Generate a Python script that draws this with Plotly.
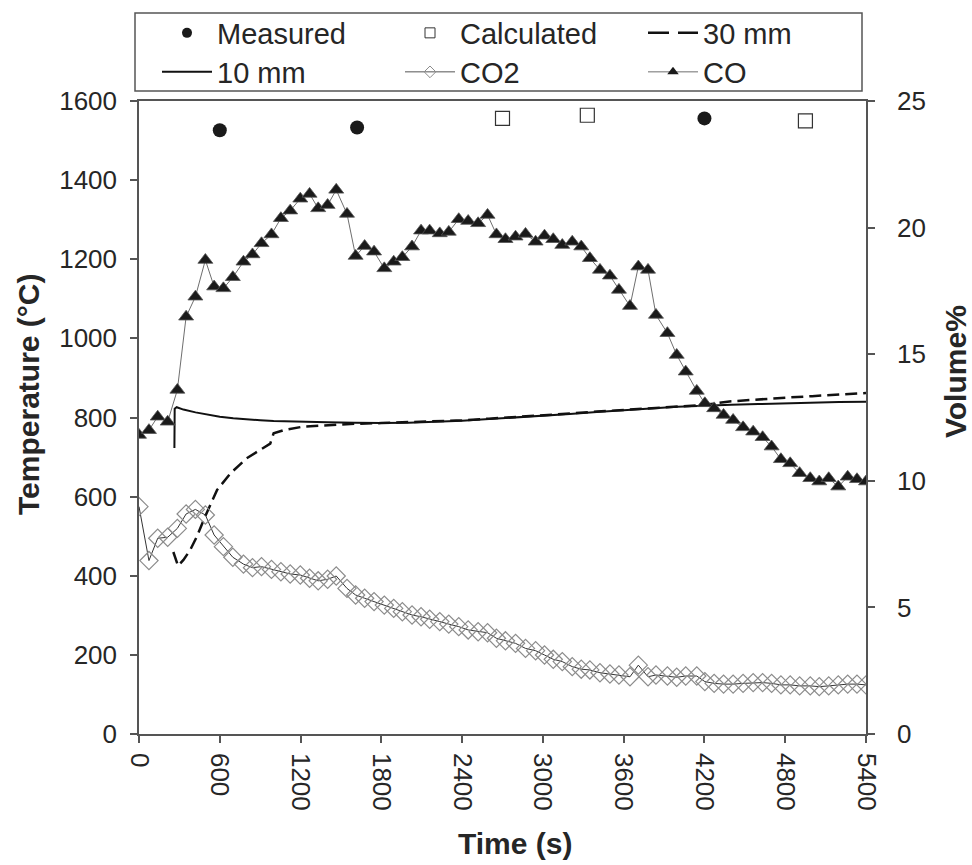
import plotly.graph_objects as go

# ---- data -------------------------------------------------------------
# surface temperatures (degC)
t_measured = [600, 1620, 4200]
T_measured = [1526, 1533, 1556]
t_calculated = [2700, 3330, 4950]
T_calculated = [1556, 1564, 1550]

# thermocouple 30 mm below the surface
t_30mm = [255, 290, 330, 380, 430, 490, 580, 680, 800, 925, 975, 1000, 1075, 1220,
          1400, 1600, 1800, 2000, 2200, 2400, 2600, 2800, 3000, 3200, 3400, 3600,
          3800, 4000, 4200, 4400, 4600, 4800, 5000, 5200, 5400]
T_30mm = [460, 425, 440, 465, 499, 549, 617, 659, 697, 722, 734, 760, 768, 777,
          781, 784, 786, 788, 790, 793, 797, 801, 806, 810, 815, 819,
          823, 827, 832, 841, 846, 850, 854, 858, 862]

# thermocouple 10 mm below the surface
t_10mm = [263, 265, 280, 330, 420, 520, 600, 700, 800, 900, 1000, 1200, 1400, 1600,
          1800, 2000, 2200, 2400, 2600, 2800, 3000, 3200, 3400, 3600, 3800, 4000,
          4200, 4400, 4600, 4800, 5000, 5200, 5400]
T_10mm = [723, 822, 826, 820, 813, 807, 802, 798, 795, 793, 791, 789, 788, 787,
          786, 787, 789, 792, 796, 800, 805, 809, 814, 819, 823, 827,
          830, 832, 834, 836, 837, 839, 840]

# off-gas composition (vol%)
t_gas = [0, 74, 139, 213, 285, 350, 419, 493, 558, 627, 697, 776, 843, 910, 984,
         1054, 1123, 1198, 1267, 1331, 1401, 1465, 1545, 1609, 1676, 1746, 1822,
         1892, 1956, 2028, 2095, 2159, 2234, 2301, 2375, 2445, 2519, 2589, 2655,
         2722, 2797, 2871, 2946, 3012, 3077, 3144, 3218, 3285, 3349, 3424, 3498,
         3565, 3647, 3709, 3781, 3840, 3925, 3994, 4061, 4143, 4203, 4272, 4342,
         4413, 4487, 4562, 4632, 4699, 4768, 4837, 4907, 4986, 5053, 5123, 5194,
         5264, 5333, 5400]
co2_vol = [8.98, 6.85, 7.73, 7.77, 8.12, 8.69, 8.87, 8.65, 7.86, 7.40, 6.98, 6.71,
           6.57, 6.61, 6.50, 6.41, 6.32, 6.28, 6.15, 6.05, 6.11, 6.24, 5.75, 5.49,
           5.36, 5.23, 5.09, 4.96, 4.83, 4.70, 4.63, 4.53, 4.44, 4.34, 4.24, 4.11,
           4.04, 4.00, 3.78, 3.68, 3.58, 3.38, 3.29, 3.12, 2.95, 2.86, 2.66, 2.56,
           2.53, 2.42, 2.37, 2.33, 2.26, 2.72, 2.26, 2.33, 2.29, 2.24, 2.29, 2.29,
           2.07, 2.00, 1.97, 1.97, 2.00, 2.03, 2.03, 2.00, 1.94, 1.94, 1.90, 1.90,
           1.87, 1.90, 1.94, 1.97, 1.97, 1.94]
co_vol = [11.81, 12.00, 12.53, 12.33, 13.59, 16.48, 17.27, 18.72, 17.67, 17.60,
          18.04, 18.65, 18.94, 19.38, 19.73, 20.37, 20.67, 21.14, 21.33, 20.76,
          20.89, 21.49, 20.54, 18.88, 19.27, 19.05, 18.39, 18.65, 18.83, 19.25,
          19.88, 19.88, 19.77, 19.83, 20.33, 20.26, 20.17, 20.50, 19.73, 19.54,
          19.64, 19.75, 19.44, 19.68, 19.54, 19.31, 19.44, 19.25, 18.79, 18.33,
          18.10, 17.54, 16.90, 18.46, 18.33, 16.55, 15.83, 14.97, 14.31, 13.55,
          13.06, 12.86, 12.60, 12.40, 12.11, 11.94, 11.72, 11.35, 10.85, 10.69,
          10.30, 10.10, 9.97, 10.10, 9.77, 10.16, 10.06, 9.97]

x_ticks = list(range(0, 5401, 600))

# ---- styling ----------------------------------------------------------
FONT = "Liberation Sans, Arial, sans-serif"
INK = "#262626"
AXIS = "#555555"

W, H = 972, 865
ML, MR, MT, MB = 139, 106, 101, 131
PW, PH = W - ML - MR, H - MT - MB


def px_x(p):
    """pixel column -> plot-area (paper) fraction"""
    return (p - ML) / PW


def px_y(p):
    """pixel row -> plot-area (paper) fraction"""
    return (H - MB - p) / PH


def cx(p):
    """pixel column -> whole-figure (container) fraction"""
    return p / W


def cy(p):
    """pixel row -> whole-figure (container) fraction"""
    return 1 - p / H


# series styles: plotted marks plus a smaller legend key
styles = {
    "Measured": dict(mode="markers",
                     marker=dict(symbol="circle", size=14, color="#1a1a1a"),
                     key=dict(marker=dict(symbol="circle", size=10, color="#1a1a1a"))),
    "Calculated": dict(mode="markers",
                       marker=dict(symbol="square-open", size=14, color="#333333",
                                   line=dict(width=1.2)),
                       key=dict(marker=dict(symbol="square-open", size=10,
                                            color="#333333", line=dict(width=1)))),
    "30 mm": dict(mode="lines",
                  line=dict(color="#111111", width=2.5, dash="12px,6px"),
                  key=dict(line=dict(color="#111111", width=2.5, dash="21px,9px"))),
    "10 mm": dict(mode="lines", line=dict(color="#111111", width=2),
                  key=dict(line=dict(color="#111111", width=2))),
    "CO2": dict(mode="lines+markers", line=dict(color="#333333", width=1),
                marker=dict(symbol="diamond-open", size=14, color="#8c8c8c",
                            line=dict(width=1.2)),
                key=dict(line=dict(color="#555555", width=1),
                         marker=dict(symbol="diamond-open", size=9, color="#8c8c8c",
                                     line=dict(width=1)))),
    "CO": dict(mode="lines+markers", line=dict(color="#6e6e6e", width=1),
               marker=dict(symbol="triangle-up", size=13, color="#1a1a1a",
                           line=dict(width=0.8, color="#555555")),
               key=dict(line=dict(color="#6e6e6e", width=1),
                        marker=dict(symbol="triangle-up", size=10, color="#1a1a1a"))),
}

series = [
    ("Measured", t_measured, T_measured, "y", "legend"),
    ("Calculated", t_calculated, T_calculated, "y", "legend2"),
    ("30 mm", t_30mm, T_30mm, "y", "legend3"),
    ("10 mm", t_10mm, T_10mm, "y", "legend4"),
    ("CO2", t_gas, co2_vol, "y2", "legend5"),
    ("CO", t_gas, co_vol, "y2", "legend6"),
]

fig = go.Figure()
for name, xs, ys, yax, leg in series:
    st = styles[name]
    kw = {k: v for k, v in st.items() if k in ("line", "marker")}
    fig.add_trace(go.Scatter(x=xs, y=ys, mode=st["mode"], name=name, yaxis=yax,
                             showlegend=False, **kw))
    # legend key with smaller symbols than the plotted markers
    fig.add_trace(go.Scatter(x=[None], y=[None], mode=st["mode"], name=name,
                             yaxis=yax, legend=leg, showlegend=True, **st["key"]))

# legend entries laid out as two rows of three, inside a framed box
legend_common = dict(xref="container", yref="container",
                     xanchor="left", yanchor="middle", bgcolor="rgba(0,0,0,0)",
                     borderwidth=0, font=dict(family=FONT, size=29, color=INK),
                     itemwidth=50)
cols = [157, 400, 643]
rows = [33, 72]
legend_pos = {
    "legend": (cols[0], rows[0]), "legend2": (cols[1], rows[0]),
    "legend3": (cols[2], rows[0]), "legend4": (cols[0], rows[1]),
    "legend5": (cols[1], rows[1]), "legend6": (cols[2], rows[1]),
}
layout_legends = {k: dict(legend_common, x=cx(v[0]), y=cy(v[1]))
                  for k, v in legend_pos.items()}

fig.add_shape(type="rect", xref="paper", yref="paper",
              x0=px_x(135), x1=px_x(862), y0=px_y(91), y1=px_y(13),
              line=dict(color=AXIS, width=1.5), fillcolor="rgba(0,0,0,0)")

# axis titles
title_font = dict(family=FONT, size=30, weight="bold", color=INK)
fig.add_annotation(text="Time (s)", xref="paper", yref="paper",
                   x=px_x(515), y=px_y(843), showarrow=False, font=title_font,
                   xanchor="center", yanchor="middle")
fig.add_annotation(text="Temperature (°C)", xref="paper", yref="paper",
                   x=px_x(28), y=px_y(395), showarrow=False, font=title_font,
                   textangle=-90, xanchor="center", yanchor="middle")
fig.add_annotation(text="Volume%", xref="paper", yref="paper",
                   x=px_x(955), y=px_y(372), showarrow=False, font=title_font,
                   textangle=-90, xanchor="center", yanchor="middle")

axis_common = dict(showline=True, linecolor=AXIS, linewidth=1.5, ticks="outside",
                   ticklen=7, tickwidth=1.5, tickcolor=AXIS, showgrid=False,
                   zeroline=False, automargin=False,
                   tickfont=dict(family=FONT, size=26, color=INK))

fig.update_layout(
    width=W, height=H,
    margin=dict(l=ML, r=MR, t=MT, b=MB, autoexpand=False),
    paper_bgcolor="white", plot_bgcolor="white",
    font=dict(family=FONT, color=INK),
    showlegend=True,
    xaxis=dict(axis_common, range=[0, 5400], tickvals=x_ticks, tickangle=90,
               mirror=True, ticklabelstandoff=5),
    yaxis=dict(axis_common, range=[0, 1600], dtick=200, ticklabelstandoff=8),
    yaxis2=dict(axis_common, range=[0, 25], dtick=5, overlaying="y", side="right",
                ticklabelstandoff=17),
    **layout_legends,
)

fig.write_html("out.html")
